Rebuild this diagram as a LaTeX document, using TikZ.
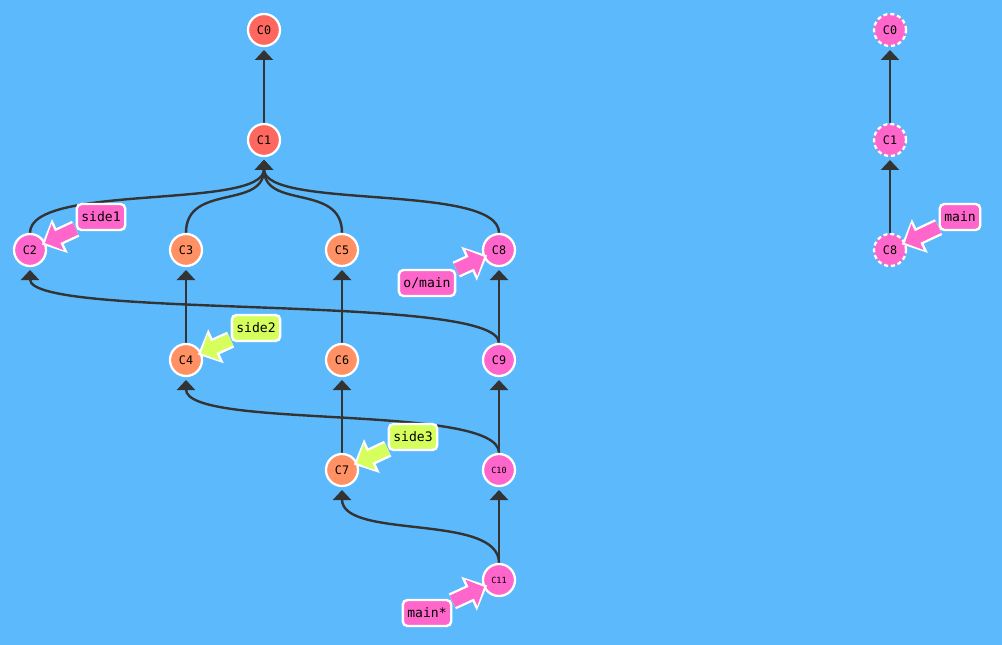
\documentclass[tikz,border=0pt]{standalone}
\usepackage{fontspec}
\newfontfamily\gitmono{DejaVu Sans Mono}
\usetikzlibrary{arrows.meta,calc}
\definecolor{bgc}{RGB}{92,186,252}
\definecolor{cred}{RGB}{255,104,94}
\definecolor{corange}{RGB}{255,145,100}
\definecolor{cpink}{RGB}{255,102,204}
\definecolor{clime}{RGB}{214,255,94}
\definecolor{cedge}{RGB}{51,51,51}
\pgfdeclarelayer{bg}
\pgfdeclarelayer{commits}
\pgfdeclarelayer{fat}
\pgfsetlayers{bg,commits,fat,main}
\tikzset{
  commit/.style={circle, draw=white, line width=1.7pt, minimum size=24pt, inner sep=0pt, font=\gitmono\fontsize{8.8}{9}\selectfont, text=black},
  small/.style={font=\gitmono\fontsize{6.4}{7}\selectfont},
  ghost/.style={dash pattern=on 3pt off 2.2pt},
  edge/.style={draw=cedge, line width=1.8pt, -{Triangle[width=13.5pt,length=7.5pt]}},
  branch/.style={draw=white, line width=1.8pt, rounded corners=3.5pt, minimum height=19.5pt, inner xsep=3.4pt, inner ysep=0pt, font=\gitmono\fontsize{9.8}{10}\selectfont, text=black},
  fatout/.style={draw=white, line width=13pt, -{Triangle[width=27pt,length=15pt]}},
  fatin/.style={line width=9.5pt, shorten >=2.6pt, -{Triangle[width=21pt,length=10.5pt]}}
}
\newcommand{\fatarrow}[3]{%
  \draw[fatout] (#1) -- ($(#2)!9.75pt!(#1)$);
  \draw[fatin, draw=#3] (#1) -- ($(#2)!9.75pt!(#1)$);
}
\begin{document}
\begin{tikzpicture}[x=0.75pt,y=-0.75pt]
\begin{pgfonlayer}{bg}
\fill[bgc] (0,0) rectangle (1002,645);
\end{pgfonlayer}
\useasboundingbox (0,0) rectangle (1002,645);
\begin{pgfonlayer}{commits}
\node[commit, fill=cred] (c0) at (264,30) {C0};
\node[commit, fill=cred] (c1) at (264,140) {C1};
\node[commit, fill=cpink] (c2) at (30,250) {C2};
\node[commit, fill=corange] (c3) at (186,250) {C3};
\node[commit, fill=corange] (c5) at (342,250) {C5};
\node[commit, fill=cpink] (c8) at (499,250) {C8};
\node[commit, fill=corange] (c4) at (186,360) {C4};
\node[commit, fill=corange] (c6) at (342,360) {C6};
\node[commit, fill=cpink] (c9) at (499,360) {C9};
\node[commit, fill=corange] (c7) at (342,470) {C7};
\node[commit, fill=cpink, small] (c10) at (499,470) {C10};
\node[commit, fill=cpink, small] (c11) at (499,580) {C11};
\node[commit, fill=cpink, ghost] (r0) at (890,30) {C0};
\node[commit, fill=cpink, ghost] (r1) at (890,140) {C1};
\node[commit, fill=cpink, ghost] (r8) at (890,250) {C8};
\end{pgfonlayer}
\begin{pgfonlayer}{bg}
\draw[edge] (c1.north) -- ($(c0)+(0,20)$);
\draw[edge] (c2.north) .. controls +(0,-50) and +(0,50) .. ($(c1)+(0,20)$);
\draw[edge] (c3.north) .. controls +(0,-50) and +(0,50) .. ($(c1)+(0,20)$);
\draw[edge] (c5.north) .. controls +(0,-50) and +(0,50) .. ($(c1)+(0,20)$);
\draw[edge] (c8.north) .. controls +(0,-50) and +(0,50) .. ($(c1)+(0,20)$);
\draw[edge] (c4.north) -- ($(c3)+(0,20)$);
\draw[edge] (c6.north) -- ($(c5)+(0,20)$);
\draw[edge] (c9.north) -- ($(c8)+(0,20)$);
\draw[edge] (c9.north) .. controls +(0,-50) and +(0,50) .. ($(c2)+(0,20)$);
\draw[edge] (c7.north) -- ($(c6)+(0,20)$);
\draw[edge] (c10.north) -- ($(c9)+(0,20)$);
\draw[edge] (c10.north) .. controls +(0,-50) and +(0,50) .. ($(c4)+(0,20)$);
\draw[edge] (c11.north) -- ($(c10)+(0,20)$);
\draw[edge] (c11.north) .. controls +(0,-50) and +(0,50) .. ($(c7)+(0,20)$);
\draw[edge] (r1.north) -- ($(r0)+(0,20)$);
\draw[edge] (r8.north) -- ($(r1)+(0,20)$);
\end{pgfonlayer}
\node[branch, fill=cpink] (side1) at (101,217) {side1};
\node[branch, fill=cpink] (omain) at (427,283) {o/main};
\node[branch, fill=clime] (side2) at (256,328) {side2};
\node[branch, fill=clime] (side3) at (413,437) {side3};
\node[branch, fill=cpink] (mainstar) at (427,613) {main*};
\node[branch, fill=cpink] (main) at (960,217) {main};
\begin{pgfonlayer}{fat}
\fatarrow{side1}{c2}{cpink}
\fatarrow{omain}{c8}{cpink}
\fatarrow{side2}{c4}{clime}
\fatarrow{side3}{c7}{clime}
\fatarrow{mainstar}{c11}{cpink}
\fatarrow{main}{r8}{cpink}
\end{pgfonlayer}
\end{tikzpicture}
\end{document}
